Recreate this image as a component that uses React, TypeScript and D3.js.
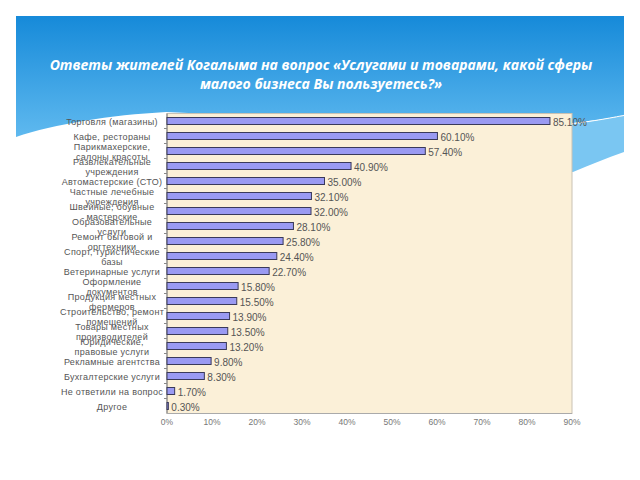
import React from "react";
import * as d3 from "d3";

const titleLines = [
  "Ответы жителей Когалыма  на вопрос «Услугами и товарами, какой сферы",
  "малого бизнеса Вы пользуетесь?»",
];

const categories = [
  ["Торговля (магазины)"],
  ["Кафе, рестораны"],
  ["Парикмахерские,", "салоны красоты"],
  ["Развлекательные", "учреждения"],
  ["Автомастерские (СТО)"],
  ["Частные лечебные", "учреждения"],
  ["Швейные, обувные", "мастерские"],
  ["Образовательные", "услуги"],
  ["Ремонт бытовой и", "оргтехники"],
  ["Спорт, туристические", "базы"],
  ["Ветеринарные услуги"],
  ["Оформление", "документов"],
  ["Продукция местных", "фермеров"],
  ["Строительство, ремонт", "помещений"],
  ["Товары местных", "производителей"],
  ["Юридические,", "правовые услуги"],
  ["Рекламные агентства"],
  ["Бухгалтерские услуги"],
  ["Не ответили на вопрос"],
  ["Другое"],
];

const values = [
  85.1, 60.1, 57.4, 40.9, 35.0, 32.1, 32.0, 28.1, 25.8, 24.4, 22.7, 15.8, 15.5,
  13.9, 13.5, 13.2, 9.8, 8.3, 1.7, 0.3,
];

const xTicks = [0, 10, 20, 30, 40, 50, 60, 70, 80, 90];

export default function App() {
  const left = 167;
  const right = 572;
  const top = 113.5;
  const bottom = 413.5;
  const x = d3.scaleLinear().domain([0, 90]).range([left, right]);
  const keys = categories.map((_, i) => String(i));
  const y = d3.scaleBand().domain(keys).range([top, bottom]).padding(0);
  const barH = 7;
  const fmt = (v: number) => d3.format(".2f")(v) + "%";
  const font = "Liberation Sans, Arial, sans-serif";

  return (
    <svg
      width={640}
      height={480}
      style={{ position: "absolute", left: 0, top: 0, background: "#fff" }}
    >
      <defs>
        <linearGradient id="hdr" x1="0" y1="0" x2="0" y2="1">
          <stop offset="0" stopColor="#168ad9" />
          <stop offset="1" stopColor="#5fb9ef" />
        </linearGradient>
      </defs>
      <path
        d="M16,16 H624 V116 C 605,119 588,121 573,123 L 300,118 L 166,112 C 110,115 55,124 16,137 Z"
        fill="url(#hdr)"
      />
      <path
        d="M 400,126 L 573,124 C 592,121 610,118 624,116 V 152 C 606,158 590,165 573,172 L 400,172 Z"
        fill="#7ac6f2"
      />
      <path
        d="M 560,125 C 590,122 610,118 626,115"
        fill="none"
        stroke="#ffffff"
        strokeWidth={1}
      />
      {titleLines.map((t, i) => (
        <text
          key={i}
          x={321}
          y={64 + i * 19}
          textAnchor="middle"
          dominantBaseline="central"
          fill="#ffffff"
          fontFamily="Open Sans, sans-serif"
          fontStyle="italic"
          fontWeight="bold"
          fontSize={14}
        >
          {t}
        </text>
      ))}

      <rect
        x={left}
        y={top}
        width={right - left}
        height={bottom - top}
        fill="#fbf0d8"
        stroke="#c9c2b4"
        strokeWidth={1}
      />
      <line x1={left} x2={left} y1={top} y2={bottom} stroke="#777" strokeWidth={1} />
      <line x1={left} x2={right} y1={bottom} y2={bottom} stroke="#aaa" strokeWidth={1} />
      {keys.slice(1).map((k) => (
        <line
          key={k}
          x1={left - 3}
          x2={left}
          y1={y(k)!}
          y2={y(k)!}
          stroke="#888"
          strokeWidth={1}
        />
      ))}

      {values.map((v, i) => {
        const cy = y(String(i))! + y.bandwidth() / 2;
        return (
          <g key={i}>
            <rect
              x={x(0)}
              y={cy - barH / 2}
              width={Math.max(x(v) - x(0), 1)}
              height={barH}
              fill="#9a9af2"
              stroke="#3a3a5a"
              strokeWidth={1}
            />
            <text
              x={x(v) + 3}
              y={cy + 1}
              dominantBaseline="central"
              fontFamily={font}
              fontSize={10}
              fill="#555"
            >
              {fmt(v)}
            </text>
          </g>
        );
      })}

      {categories.map((lines, i) => {
        const cy = y(String(i))! + y.bandwidth() / 2;
        const lh = 10.5;
        const start = cy - ((lines.length - 1) * lh) / 2 + 1;
        return (
          <text
            key={i}
            x={112}
            textAnchor="middle"
            fontFamily={font}
            fontSize={9}
            letterSpacing={0.3}
            fill="#555"
          >
            {lines.map((l, j) => (
              <tspan key={j} x={112} y={start + j * lh} dominantBaseline="central">
                {l}
              </tspan>
            ))}
          </text>
        );
      })}

      {xTicks.map((t) => (
        <text
          key={t}
          x={x(t)}
          y={421.5}
          textAnchor="middle"
          dominantBaseline="central"
          fontFamily={font}
          fontSize={8.5}
          fill="#777"
        >
          {t + "%"}
        </text>
      ))}
    </svg>
  );
}
